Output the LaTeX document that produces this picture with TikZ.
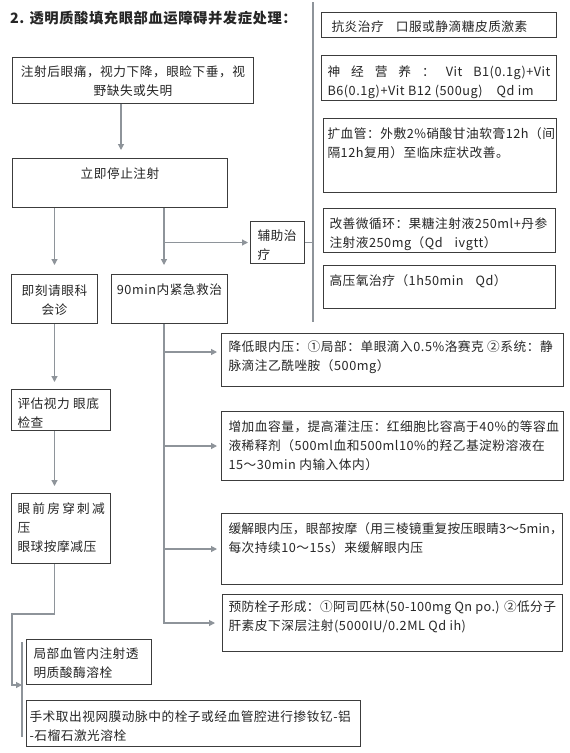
\documentclass[tikz,border=0pt]{standalone}
\usepackage{fontspec}
\setmainfont{Noto Sans CJK SC}[LetterSpace=4]
\usetikzlibrary{arrows.meta,calc}
\definecolor{txt}{HTML}{262626}
\definecolor{bdr}{HTML}{3C3C3C}
\definecolor{lnc}{HTML}{8E949A}
\newcommand{\fs}{\fontsize{12.7}{19}\selectfont}
\newcommand{\bt}[4]{\begin{minipage}[t][#2pt][t]{#1pt}\rule{0pt}{#3pt}#4\end{minipage}}
\tikzset{
 bx/.style={draw=bdr, line width=1pt, anchor=north west, inner ysep=0pt, inner xsep=#1, font=\fs, text=txt},
 bx/.default=6pt,
 ln/.style={draw=lnc, line width=1.2pt},
 arr/.style={ln, -{Triangle[length=6pt,width=6pt]}},
}
\begin{document}
\begin{tikzpicture}[x=1pt,y=-1pt]
\useasboundingbox[fill=white] (0,0) rectangle (570,753);

\node[anchor=base west, inner sep=0pt, text=txt, font=\bfseries\fontsize{14.3}{16}\selectfont] (T) at (10,23) {2. 透明质酸填充眼部血运障碍并发症处理：};

% left / middle column
\node[bx=4pt] (A) at (12,57) {\bt{233}{46}{19}{\centering\mbox{注射后眼痛，视力下降，眼睑下垂，视}\\\mbox{野缺失或失明}}};
\node[bx=4pt] (B) at (12,158) {\bt{207}{49}{19.5}{\centering\mbox{立即停止注射}}};
\node[bx=4pt] (L1) at (11,274) {\bt{78}{49}{21}{\centering\mbox{即刻请眼科}\\\mbox{会诊}}};
\node[bx=4pt] (M1) at (111,274) {\bt{108}{49}{20}{\centering\mbox{90min内紧急救治}}};
\node[bx=7pt] (AUX) at (250,221) {\bt{40}{42}{19}{\mbox{辅助治}\\\mbox{疗}}};
\node[bx=6pt] (L2) at (11,389) {\bt{87}{41}{19}{\mbox{评估视力 眼底}\\\mbox{检查}}};
\node[bx=6pt] (L3) at (11,493) {\bt{87}{70}{20}{\makebox[\linewidth][s]{眼 前 房 穿 刺 减}\\\mbox{压}\\\mbox{眼球按摩减压}}};

% right upper column
\node[bx=10pt] (R1) at (321,12) {\bt{215}{25}{19}{\mbox{抗炎治疗\hspace{12pt}口服或静滴糖皮质激素}}};
\node[bx=6pt] (R2) at (321,55) {\bt{223}{45}{21}{\makebox[\linewidth][s]{神 经 营 养 ： Vit B1(0.1g)+Vit}\\\mbox{B6(0.1g)+Vit B12 (500ug)\hspace{14pt}Qd im}}};
\node[bx=4pt] (R3) at (323,118) {\bt{225}{74}{20}{\mbox{扩血管：外敷2\%硝酸甘油软膏12h（间}\\\mbox{隔12h复用）至临床症状改善。}}};
\node[bx=6pt] (R4) at (323,208) {\bt{220}{44}{20}{\mbox{改善微循环：果糖注射液250ml+丹参}\\\mbox{注射液250mg（Qd\hspace{12pt}ivgtt）}}};
\node[bx=6pt] (R5) at (323,265) {\bt{220}{43}{20}{\mbox{高压氧治疗（1h50min\hspace{12pt}Qd）}}};

% right lower column
\node[bx=7pt] (D1) at (221,333) {\bt{328}{53}{18}{\mbox{降低眼内压：①局部：单眼滴入0.5\%洛赛克 ②系统：静}\\\mbox{脉滴注乙酰唑胺（500mg）}}};
\node[bx=7pt] (D2) at (221,411) {\bt{328}{69}{20}{\mbox{增加血容量，提高灌注压：红细胞比容高于40\%的等容血}\\\mbox{液稀释剂（500ml血和500ml10\%的羟乙基淀粉溶液在}\\\mbox{15～30min 内输入体内）}}};
\node[bx=7pt] (D3) at (221,513) {\bt{327}{71}{20}{\mbox{\addfontfeature{LetterSpace=1.5}缓解眼内压，眼部按摩（用三棱镜重复按压眼睛3～5min，}\\\mbox{每次持续10～15s）来缓解眼内压}}};
\node[bx=6pt] (D4) at (222,594) {\bt{328}{57}{17}{\mbox{\addfontfeature{LetterSpace=3}预防栓子形成：①阿司匹林(50-100mg Qn po.) ②低分子}\\\mbox{肝素皮下深层注射(5000IU/0.2ML Qd ih)}}};

% bottom left
\node[bx=7pt] (E1) at (26,639) {\bt{111}{45}{19}{\mbox{局部血管内注射透}\\\mbox{明质酸酶溶栓}}};
\node[bx=3pt] (E2) at (26,700) {\bt{328}{46}{21}{\mbox{手术取出视网膜动脉中的栓子或经血管腔进行掺钕钇-铝}\\\mbox{-石榴石激光溶栓}}};

% helper coordinates
\coordinate (mx) at ([xshift=53pt]M1.north west);
\coordinate (vt) at (313,2);
\coordinate (vb) at (313,322);
\coordinate (d1w) at ([yshift=8pt]D1.west);
\coordinate (lc1) at (12,614);
\coordinate (lc2) at (12,685);
\coordinate (brt) at (22,642);
\coordinate (brb) at (22,737);

% connectors
\draw[arr, shorten >=8pt] ([xshift=109pt]A.south west) -- ([xshift=109pt]B.north west);
\draw[arr, shorten >=9pt] (B.south -| L1.north) -- (L1.north);
\draw[arr, shorten >=9pt] (B.south -| mx) -- (mx);
\draw[arr, shorten >=2pt] (AUX.west -| mx) -- (AUX.west);
\draw[ln] (vt) -- (vb);
\draw[ln] (AUX.east) -- (AUX.east -| vt);
\draw[arr, shorten >=7pt] (L1.south) -- (L1.south |- L2.north);
\draw[arr, shorten >=7pt] (L2.south -| L1.south) -- (L3.north -| L1.south);
\draw[arr, shorten >=7pt] (M1.south -| mx) |- (D4.west);
\draw[arr, shorten >=4pt] (d1w -| mx) -- (d1w);
\draw[arr, shorten >=4pt] (D2.west -| mx) -- (D2.west);
\draw[arr, shorten >=4pt] (D3.west -| mx) -- (D3.west);
\draw[arr] (L3.south -| L1.south) |- (lc1) -- (lc2) -- (lc2 -| brt);
\draw[ln] (brt) -- (brb);
\end{tikzpicture}
\end{document}
